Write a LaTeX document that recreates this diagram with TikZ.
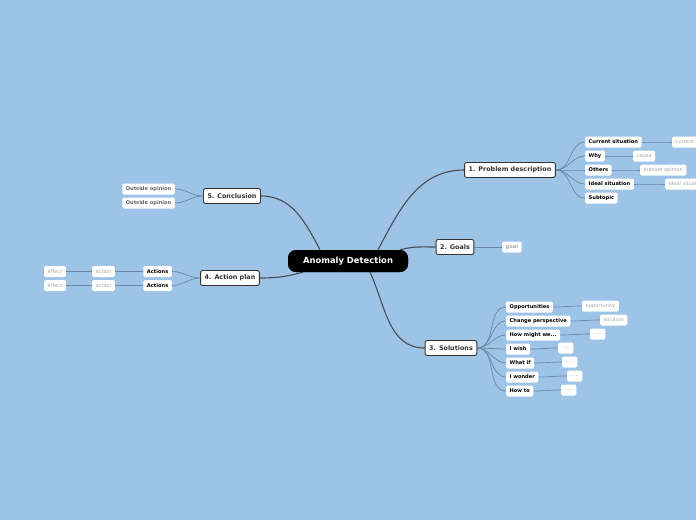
\documentclass[tikz,border=0pt]{standalone}
\usepackage{fontspec}
\setmainfont{DejaVu Sans}
\usetikzlibrary{calc}
\definecolor{bg}{HTML}{9DC3E7}
\definecolor{mainline}{HTML}{4A4E52}
\definecolor{subline}{HTML}{6B87A3}
\definecolor{maintext}{HTML}{333333}
\definecolor{leaftext}{HTML}{A8A8A8}
\tikzset{
  rootbox/.style={fill=black,text=white,rounded corners=8pt,font=\bfseries\fontsize{8.4}{10}\selectfont,minimum height=22pt,minimum width=120pt,inner sep=0pt},
  mainbox/.style={fill=white,draw=maintext,line width=0.9pt,rounded corners=2pt,text=maintext,font=\bfseries\fontsize{6.4}{7.5}\selectfont,minimum height=15pt,inner xsep=4pt,inner ysep=0pt},
  subbox/.style={fill=white,rounded corners=1.5pt,text=black,font=\bfseries\fontsize{5.1}{6}\selectfont,minimum height=11pt,inner xsep=3.5pt,inner ysep=0pt,anchor=west},
  leafbox/.style={fill=white,rounded corners=1.5pt,text=leaftext,font=\fontsize{5.1}{6}\selectfont,minimum height=11pt,inner xsep=3.5pt,inner ysep=0pt,anchor=west},
  mainlink/.style={draw=mainline,line width=1.1pt},
  sublink/.style={draw=subline,line width=0.7pt},
}
\begin{document}
\begin{tikzpicture}[x=1pt,y=-1pt]
\fill[bg] (0,0) rectangle (696,520);
\useasboundingbox (0,0) rectangle (696,520);
\clip (0,0) rectangle (696,520);

\node[rootbox] (root) at (348,261) {Anomaly Detection};
\node[mainbox] (p) at (510,170) {1. Problem description};
\node[mainbox] (g) at (455,247) {2. Goals};
\node[mainbox] (s) at (451,348) {3. Solutions};
\node[mainbox] (a) at (230,278) {4. Action plan};
\node[mainbox] (c) at (232,196) {5. Conclusion};

% problem children
\node[subbox] (p1) at (585,142) {Current situation};
\node[subbox] (p2) at (585,156) {Why};
\node[subbox] (p3) at (585,170) {Others};
\node[subbox] (p4) at (585,184) {Ideal situation};
\node[subbox] (p5) at (585,198) {Subtopic};
\node[leafbox] (p1a) at (672,142) {current situation};
\node[leafbox] (p2a) at (633,156) {cause};
\node[leafbox] (p3a) at (640,170) {outside opinion};
\node[leafbox] (p4a) at (665,184) {ideal situation};

% goals
\node[leafbox] (g1) at (502,247) {\bfseries goal};

% solutions
\node[subbox] (s1) at (506,307) {Opportunities};
\node[subbox] (s2) at (506,321) {Change perspective};
\node[subbox] (s3) at (506,335) {How might we...};
\node[subbox] (s4) at (506,349) {I wish};
\node[subbox] (s5) at (506,363) {What if};
\node[subbox] (s6) at (506,377) {I wonder};
\node[subbox] (s7) at (506,391) {How to};
\node[leafbox] (s1a) at (582,306) {opportunity};
\node[leafbox] (s2a) at (600,320) {solution};
\node[leafbox] (s3a) at (590,334) {.....};
\node[leafbox] (s4a) at (558,348) {.....};
\node[leafbox] (s5a) at (562,362) {.....};
\node[leafbox] (s6a) at (567,376) {.....};
\node[leafbox] (s7a) at (561,390) {.....};

% action plan
\node[subbox,anchor=east] (a1) at (172,271.5) {Actions};
\node[subbox,anchor=east] (a2) at (172,285.5) {Actions};
\node[leafbox,anchor=east] (a1a) at (115,271.5) {action};
\node[leafbox,anchor=east] (a2a) at (115,285.5) {action};
\node[leafbox,anchor=east] (a1b) at (66,271.5) {effect};
\node[leafbox,anchor=east] (a2b) at (66,285.5) {effect};

% conclusion
\node[subbox,anchor=east,text=maintext!75] (c1) at (175,189) {Outside opinion};
\node[subbox,anchor=east,text=maintext!75] (c2) at (175,203) {Outside opinion};

% ---- links ----
\draw[mainlink] ($(root.north)+(30,0)$) to[out=62,in=180] (p.west);
\draw[mainlink] ($(root.north)+(52,0)$) to[out=15,in=180] (g.west);
\draw[mainlink] ($(root.south)+(22,0)$) to[out=-65,in=180] (s.west);
\draw[mainlink] ($(root.south)+(-45,0)$) to[out=195,in=0] (a.east);
\draw[mainlink] ($(root.north)+(-28,0)$) to[out=118,in=0] (c.east);
\foreach \n in {p1,p2,p3,p4,p5} \draw[sublink] (p.east) to[out=0,in=180] (\n.west);
\foreach \n in {s1,s2,s3,s4,s5,s6,s7} \draw[sublink] (s.east) to[out=0,in=180] (\n.west);
\foreach \n in {a1,a2} \draw[sublink] (a.west) to[out=180,in=0] (\n.east);
\foreach \n in {c1,c2} \draw[sublink] (c.west) to[out=180,in=0] (\n.east);
\draw[sublink] (g.east) -- (g1.west);
\draw[sublink] (p1.east) to[out=0,in=180] (p1a.west);
\draw[sublink] (p2.east) to[out=0,in=180] (p2a.west);
\draw[sublink] (p3.east) to[out=0,in=180] (p3a.west);
\draw[sublink] (p4.east) to[out=0,in=180] (p4a.west);
\draw[sublink] (s1.east) to[out=0,in=180] (s1a.west);
\draw[sublink] (s2.east) to[out=0,in=180] (s2a.west);
\draw[sublink] (s3.east) to[out=0,in=180] (s3a.west);
\draw[sublink] (s4.east) to[out=0,in=180] (s4a.west);
\draw[sublink] (s5.east) to[out=0,in=180] (s5a.west);
\draw[sublink] (s6.east) to[out=0,in=180] (s6a.west);
\draw[sublink] (s7.east) to[out=0,in=180] (s7a.west);
\draw[sublink] (a1.west) to[out=180,in=0] (a1a.east);
\draw[sublink] (a2.west) to[out=180,in=0] (a2a.east);
\draw[sublink] (a1a.west) to[out=180,in=0] (a1b.east);
\draw[sublink] (a2a.west) to[out=180,in=0] (a2b.east);

% redraw root on top of link ends
\node[rootbox] at (root) {Anomaly Detection};
\end{tikzpicture}
\end{document}
